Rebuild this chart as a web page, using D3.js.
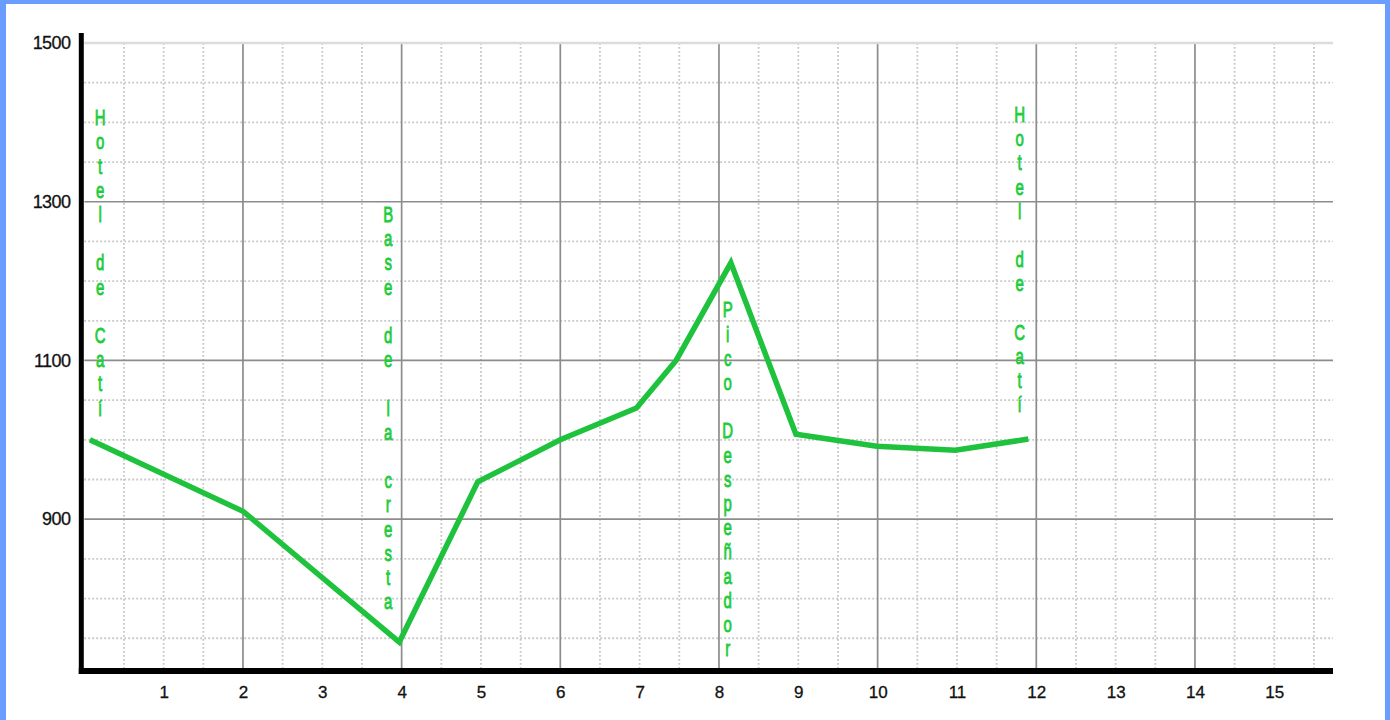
<!DOCTYPE html>
<html>
<head>
<meta charset="utf-8">
<script src="https://cdn.jsdelivr.net/npm/d3@7"></script>
<style>
  html, body { margin: 0; padding: 0; background: #6b9cff; overflow: hidden; }
  svg { display: block; }
</style>
</head>
<body>
<svg id="chart" width="1390" height="720"></svg>
<script>
// route profile: distance (km) vs elevation (m)
const distance  = [0.07, 2, 3.97, 4.96, 6, 6.96, 7.46, 8.15, 8.97, 9.99, 10.98, 11.9];
const elevation = [1000, 910, 745, 947, 1000, 1040, 1100, 1223, 1007, 992, 987, 1001];

const xTicks = d3.range(1, 16);
const yTicks = [900, 1100, 1300, 1500];

// place names written vertically along the profile
const labelText = ["Hotel de Catí", "Base de la cresta", "Pico Despeñador", "Hotel de Catí"];
const labelX    = [0.2, 3.83, 8.11, 11.79];
const labelTop  = [1406, 1284, 1164, 1410];

const svg = d3.select("#chart");

// white page inside the blue frame
svg.append("rect")
  .attr("x", 6).attr("y", 4)
  .attr("width", 1379).attr("height", 716)
  .attr("fill", "#ffffff");

const x = d3.scaleLinear().domain([0, 15.74]).range([84.3, 1333]);
const y = d3.scaleLinear().domain([710, 1500]).range([670, 43]);

const grid = svg.append("g");

// minor dotted grid
const minorX = d3.range(0.5, 15.6, 0.5).filter(d => d % 2 !== 0);
const minorY = d3.range(750, 1500, 50).filter(d => yTicks.indexOf(d) < 0);

grid.selectAll(".mx").data(minorX).enter().append("line")
  .attr("x1", d => x(d)).attr("x2", d => x(d))
  .attr("y1", y(1500)).attr("y2", y(710))
  .attr("stroke", "#c6c6c6").attr("stroke-width", 1.8)
  .attr("stroke-dasharray", "1.8,2.2");

grid.selectAll(".my").data(minorY).enter().append("line")
  .attr("x1", x(0)).attr("x2", x(15.74))
  .attr("y1", d => y(d)).attr("y2", d => y(d))
  .attr("stroke", "#c6c6c6").attr("stroke-width", 1.8)
  .attr("stroke-dasharray", "1.8,2.2");

// major grid
const majorX = d3.range(2, 15, 2);
grid.selectAll(".Mx").data(majorX).enter().append("line")
  .attr("x1", d => x(d)).attr("x2", d => x(d))
  .attr("y1", y(1500)).attr("y2", y(710))
  .attr("stroke", "#8c8c8c").attr("stroke-width", 1.7);

grid.selectAll(".My").data(yTicks).enter().append("line")
  .attr("x1", x(0)).attr("x2", x(15.74))
  .attr("y1", d => y(d)).attr("y2", d => y(d))
  .attr("stroke", d => d === 1500 ? "#dcdcdc" : "#8c8c8c")
  .attr("stroke-width", d => d === 1500 ? 2.5 : 1.7);

// profile line
const pts = distance.map((d, i) => [d, elevation[i]]);
svg.append("path")
  .datum(pts)
  .attr("fill", "none")
  .attr("stroke", "#1ec23c")
  .attr("stroke-width", 5.5)
  .attr("stroke-linejoin", "miter")
  .attr("d", d3.line().x(d => x(d[0])).y(d => y(d[1])));

// vertical labels
const lineStep = 24.2;
labelText.forEach((txt, k) => {
  const g = svg.append("g");
  const chars = Array.from(txt);
  g.selectAll("text").data(chars).enter().append("text")
    .attr("transform", (c, i) => `translate(${x(labelX[k])},${y(labelTop[k]) + i * lineStep}) scale(1,1.5)`)
    .attr("text-anchor", "middle")
    .attr("dominant-baseline", "central")
    .attr("font-family", "'Liberation Sans', Arial, sans-serif")
    .attr("font-size", 15)
    .attr("fill", "#22cc3c")
    .attr("stroke", "#22cc3c")
    .attr("stroke-width", 0.6)
    .text(c => c);
});

// axes
const xAxis = svg.append("g")
  .attr("transform", `translate(0,${y(710)})`)
  .call(d3.axisBottom(x).tickValues(xTicks).tickSize(0).tickPadding(16).tickFormat(d3.format("d")));
xAxis.select(".domain").remove();
xAxis.selectAll("text")
  .attr("font-family", "'Liberation Sans', Arial, sans-serif")
  .attr("font-size", 17)
  .attr("fill", "#111")
  .attr("stroke", "#111")
  .attr("stroke-width", 0.3);

const yAxis = svg.append("g")
  .attr("transform", `translate(${x(0) - 3},0)`)
  .call(d3.axisLeft(y).tickValues(yTicks).tickSize(0).tickPadding(11).tickFormat(d3.format("d")));
yAxis.select(".domain").remove();
yAxis.selectAll("text")
  .attr("font-family", "'Liberation Sans', Arial, sans-serif")
  .attr("font-size", 18)
  .attr("letter-spacing", "-0.6")
  .attr("fill", "#111")
  .attr("stroke", "#111")
  .attr("stroke-width", 0.3);

// thick axis lines
svg.append("line")
  .attr("x1", x(0) - 3).attr("x2", x(0) - 3)
  .attr("y1", y(1500) - 10).attr("y2", y(710) + 4)
  .attr("stroke", "#000").attr("stroke-width", 5);
svg.append("line")
  .attr("x1", x(0) - 5.5).attr("x2", x(15.74))
  .attr("y1", y(710) + 1).attr("y2", y(710) + 1)
  .attr("stroke", "#000").attr("stroke-width", 6);
</script>
</body>
</html>
